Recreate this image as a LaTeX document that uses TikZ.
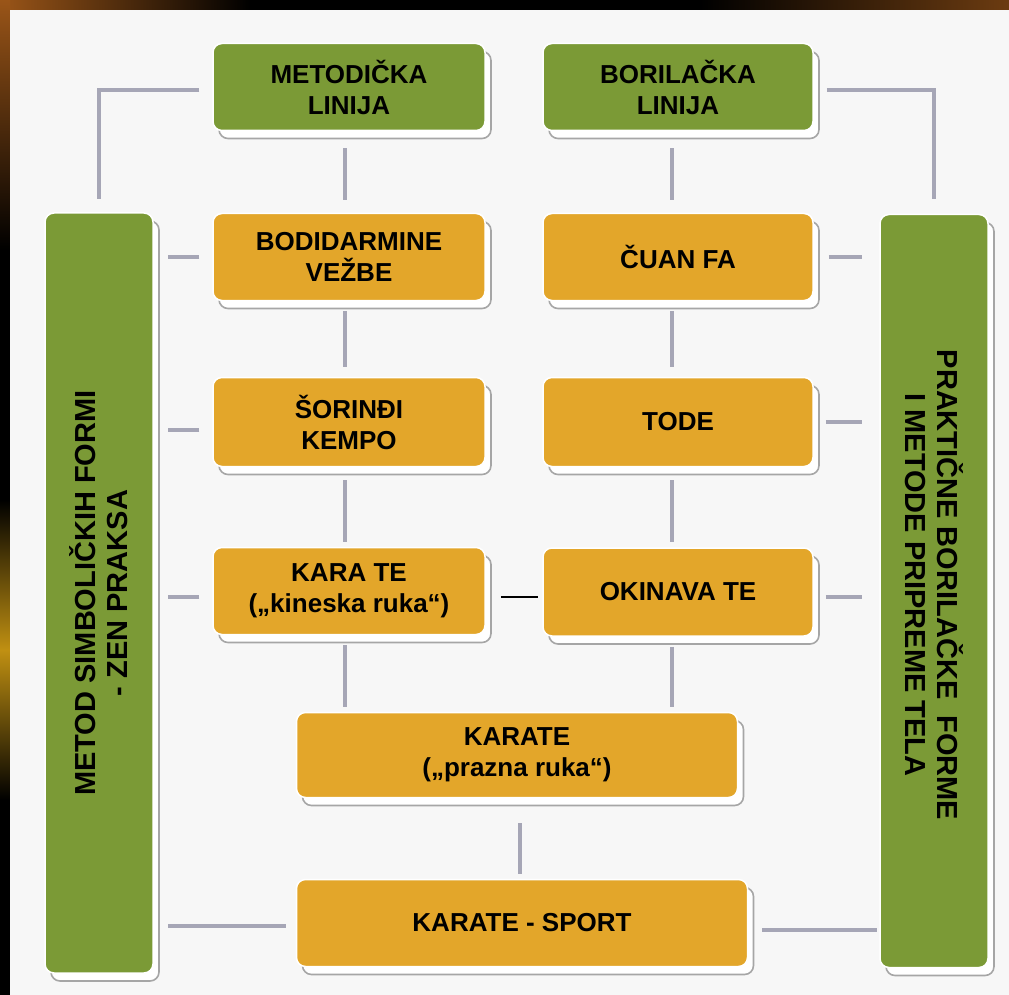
\documentclass[tikz,border=0pt]{standalone}
\usepackage{fontspec}
\setmainfont{Liberation Sans}
\usetikzlibrary{shadows}
\definecolor{boxgreen}{HTML}{7B9A36}
\definecolor{boxorange}{HTML}{E3A62A}
\definecolor{conngray}{HTML}{A6A6B6}
\definecolor{pagebg}{HTML}{F7F7F7}
\definecolor{edgebrown}{HTML}{9A5518}
\definecolor{edgegold}{HTML}{C09012}
\begin{document}
\begin{tikzpicture}[x=1pt,y=-1pt,
  base/.style={rounded corners=9pt, draw=white, line width=1.5pt, inner sep=0pt, align=center,
     general shadow={shadow xshift=6pt, shadow yshift=-8pt, fill=white, draw=gray!70, line width=1.6pt}},
  greenbox/.style={base, fill=boxgreen},
  orangebox/.style={base, fill=boxorange},
  boxfont/.style={font=\bfseries\fontsize{26}{31}\selectfont},
  tallfont/.style={font=\bfseries\fontsize{29}{32}\selectfont, align=center, inner sep=0pt},
  conn/.style={draw=conngray, line width=3.5pt},
  link/.style={draw=black, line width=1.5pt},
]
\useasboundingbox (0,0) rectangle (1009,995);
% page frame and background
\fill[black] (0,0) rectangle (1009,995);
\shade[left color=edgebrown, right color=black] (0,0) rectangle (250,10);
\shade[left color=black, right color=edgebrown!70!black] (700,0) rectangle (1009,10);
\shade[top color=edgebrown, bottom color=black] (0,0) rectangle (10,250);
\shade[top color=black, bottom color=edgegold] (0,500) rectangle (10,650);
\shade[top color=edgegold, bottom color=black] (0,650) rectangle (10,800);
\fill[pagebg] (10,10) rectangle (1009,995);

% top line
\node[greenbox, boxfont, minimum width=272pt, minimum height=87pt] (met) at (349,87) {METODIČKA\\LINIJA};
\node[greenbox, boxfont, minimum width=270pt, minimum height=87pt] (bor) at (678,87) {BORILAČKA\\LINIJA};
% side columns
\node[greenbox, minimum width=108pt, minimum height=760pt] (left) at (99,593) {};
\node[tallfont, rotate=90] (lefttext) at (left.center) {METOD SIMBOLIČKIH FORMI\\- ZEN PRAKSA};
\node[greenbox, minimum width=108pt, minimum height=753pt] (right) at (934,591) {};
\node[tallfont, rotate=-90] (righttext) at ([yshift=6pt]right.center) {PRAKTIČNE BORILAČKE\ \ FORME\\I METODE PRIPREME TELA};
% inner boxes
\node[orangebox, boxfont, minimum width=272pt, minimum height=87pt] (bod) at (349,257) {BODIDARMINE\\VEŽBE};
\node[orangebox, boxfont, minimum width=270pt, minimum height=87pt] (cuan) at (678,257) {ČUAN FA};
\node[orangebox, boxfont, minimum width=272pt, minimum height=89pt] (sor) at (349,422) {ŠORINĐI\\KEMPO};
\node[orangebox, boxfont, minimum width=270pt, minimum height=89pt] (tode) at (678,422) {TODE};
\node[orangebox, boxfont, minimum width=272pt, minimum height=87pt] (karte) at (349,591) {KARA TE\\(„kineska ruka“)};
\node[orangebox, boxfont, minimum width=270pt, minimum height=88pt] (okin) at (678,592) {OKINAVA TE};
\node[orangebox, boxfont, minimum width=441pt, minimum height=85pt] (karate) at (517,755) {KARATE\\(„prazna ruka“)};
\node[orangebox, boxfont, minimum width=451pt, minimum height=87pt] (sport) at (522,923) {KARATE - SPORT};

% connectors to side columns
\draw[conn, shorten <=13pt, shorten >=13pt] ([yshift=-3pt]met.west) -- ([yshift=-3pt]met.west -| left.north) -- (left.north);
\draw[conn, shorten <=13pt, shorten >=15pt] ([yshift=-3pt]bor.east) -- ([yshift=-3pt]bor.east -| right.north) -- (right.north);
\draw[conn, shorten <=13pt, shorten >=14pt] (bod.west) -- (bod.west -| left.east);
\draw[conn, shorten <=13pt, shorten >=14pt] ([yshift=-8pt]sor.west) -- ([yshift=-8pt]sor.west -| left.east);
\draw[conn, shorten <=13pt, shorten >=14pt] ([yshift=-6pt]karte.west) -- ([yshift=-6pt]karte.west -| left.east);
\draw[conn, shorten <=10pt, shorten >=14pt] ([yshift=-3pt]sport.west) -- ([yshift=-3pt]sport.west -| left.east);
\draw[conn, shorten <=15pt, shorten >=17pt] (cuan.east) -- (cuan.east -| right.west);
\draw[conn, shorten <=12pt, shorten >=17pt] (tode.east) -- (tode.east -| right.west);
\draw[conn, shorten <=12pt, shorten >=17pt] ([yshift=-5pt]okin.east) -- ([yshift=-5pt]okin.east -| right.west);
\draw[conn, shorten <=14pt, shorten >=2pt] ([yshift=-7pt]sport.east) -- ([yshift=-7pt]sport.east -| right.west);

% vertical connectors
\draw[conn, shorten <=17pt, shorten >=13pt] ([xshift=-4pt]met.south) -- ([xshift=-4pt]bod.north);
\draw[conn, shorten <=17pt, shorten >=13pt] ([xshift=-6pt]bor.south) -- ([xshift=-6pt]cuan.north);
\draw[conn, shorten <=10pt, shorten >=10pt] ([xshift=-4pt]bod.south) -- ([xshift=-4pt]sor.north);
\draw[conn, shorten <=10pt, shorten >=10pt] ([xshift=-6pt]cuan.south) -- ([xshift=-6pt]tode.north);
\draw[conn, shorten <=13pt, shorten >=5pt] ([xshift=-4pt]sor.south) -- ([xshift=-4pt]karte.north);
\draw[conn, shorten <=13pt, shorten >=5pt] ([xshift=-6pt]tode.south) -- ([xshift=-6pt]okin.north);
\draw[conn, shorten <=10pt, shorten >=5pt] ([xshift=-4pt]karte.south) -- ([xshift=-4pt]karte.south |- karate.north);
\draw[conn, shorten <=10pt, shorten >=5pt] ([xshift=-6pt]okin.south) -- ([xshift=-6pt]okin.south |- karate.north);
\draw[conn, shorten <=25pt, shorten >=5pt] ([xshift=3pt]karate.south) -- ([xshift=3pt]karate.south |- sport.north);

% direct link
\draw[link, shorten <=15pt, shorten >=4pt] ([yshift=-6pt]karte.east) -- ([yshift=-6pt]karte.east -| okin.west);
\end{tikzpicture}
\end{document}
